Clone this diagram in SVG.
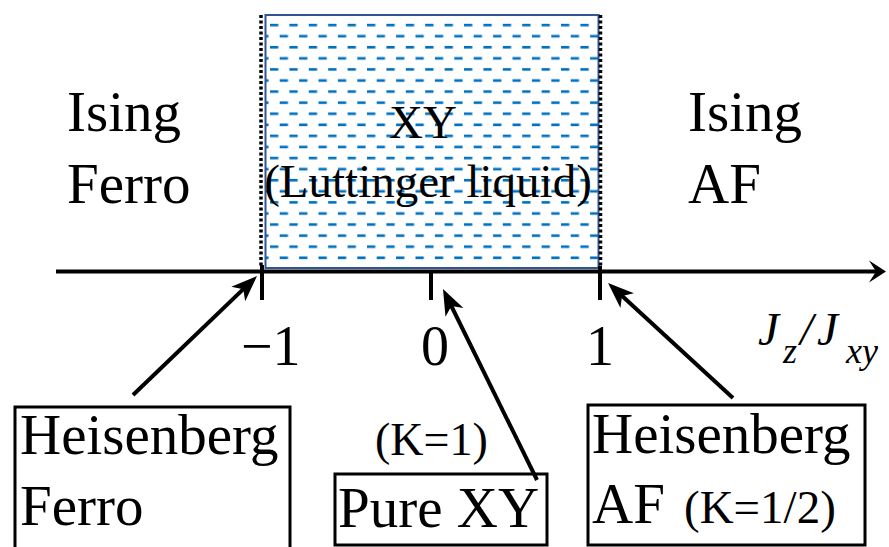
<svg xmlns="http://www.w3.org/2000/svg" width="889" height="547" viewBox="0 0 889 547">
<style>
  .t { font-family: "Liberation Serif", "Times New Roman", serif; fill: #000; }
  .big { font-size: 57px; }
  .mid { font-size: 47px; }
  .ax { stroke: #000; stroke-width: 4; fill: none; }
  .box { fill: none; stroke: #000; stroke-width: 3; }
  .dot { stroke: #000; stroke-width: 3.5; stroke-dasharray: 3 2.5; fill: none; }
  .conn { stroke: #000; stroke-width: 4; fill: none; marker-end: url(#ah); }
  .jb { font-size: 47px; font-style: italic; }
  .js { font-size: 36px; font-style: italic; }
</style>
<defs>
  <pattern id="dash" patternUnits="userSpaceOnUse" x="270" y="20" width="19.4" height="22.16">
    <rect x="0" y="3.8" width="8.3" height="2.6" fill="#0070C0"/>
    <rect x="9.7" y="14.9" width="8.3" height="2.6" fill="#0070C0"/>
  </pattern>
  <marker id="ah" markerUnits="userSpaceOnUse" viewBox="-36 -12 38 24" markerWidth="38" markerHeight="24" refX="-10" refY="0" orient="auto">
    <path d="M0,0 L-26,-10 L-19,0 L-26,10 Z" fill="#000"/>
  </marker>
  <marker id="axh" markerUnits="userSpaceOnUse" viewBox="-24 -13 26 26" markerWidth="26" markerHeight="26" refX="-6" refY="0" orient="auto">
    <path d="M0,0 L-17,-11 L-10,0 L-17,11 Z" fill="#000"/>
  </marker>
</defs>
<rect width="889" height="547" fill="#fff"/>

<g id="xy-region">
  <rect x="265.5" y="15" width="333" height="253" fill="#fff"/>
  <rect x="265.5" y="15" width="333" height="253" fill="url(#dash)" stroke="#2F5597" stroke-width="2"/>
  <line class="dot" x1="261" y1="15" x2="261" y2="268"/>
  <line class="dot" x1="600.5" y1="15" x2="600.5" y2="268"/>
  <text class="t mid" x="423" y="138" text-anchor="middle">XY</text>
  <text class="t mid" x="428" y="197" text-anchor="middle">(Luttinger liquid)</text>
</g>

<g id="ising-ferro">
  <text class="t big" x="67" y="131">Ising</text>
  <text class="t big" x="67" y="203">Ferro</text>
</g>
<g id="ising-af">
  <text class="t big" x="688" y="131">Ising</text>
  <text class="t big" x="688" y="203">AF</text>
</g>

<g id="axis">
  <line class="ax" x1="56" y1="271.5" x2="880" y2="271.5" marker-end="url(#axh)"/>
  <line class="ax" x1="262" y1="265" x2="262" y2="300"/>
  <line class="ax" x1="431" y1="271" x2="431" y2="300"/>
  <line class="ax" x1="600" y1="266" x2="600" y2="300"/>
  <text class="t" font-size="56" x="241" y="365">−1</text>
  <text class="t" font-size="56" x="421" y="365">0</text>
  <text class="t" font-size="56" x="586" y="365">1</text>
  <text class="t jb" x="758" y="345">J</text>
  <text class="t js" x="783" y="363">z</text>
  <text class="t jb" x="800" y="345">/</text>
  <text class="t jb" x="817" y="345">J</text>
  <text class="t js" x="846" y="363">xy</text>
</g>

<g id="heisenberg-ferro">
  <rect class="box" x="15" y="407" width="275" height="145"/>
  <text class="t big" x="20" y="454">Heisenberg</text>
  <text class="t big" x="20" y="525">Ferro</text>
</g>

<g id="pure-xy">
  <text class="t" font-size="46" x="375" y="455">(K=1)</text>
  <rect class="box" x="335" y="474" width="212" height="71"/>
  <text class="t big" x="338" y="527">Pure XY</text>
</g>

<g id="heisenberg-af">
  <rect class="box" x="588" y="405" width="277" height="140"/>
  <text class="t big" x="592" y="453">Heisenberg</text>
  <text class="t big" x="592" y="523">AF</text>
  <text class="t mid" x="684" y="523">(K=1/2)</text>
</g>

<g id="connectors">
  <line class="conn" x1="133" y1="395" x2="249.8" y2="282.9"/>
  <line class="conn" x1="537" y1="480" x2="447.4" y2="298"/>
  <line class="conn" x1="733" y1="398" x2="615.4" y2="289.8"/>
</g>
</svg>
